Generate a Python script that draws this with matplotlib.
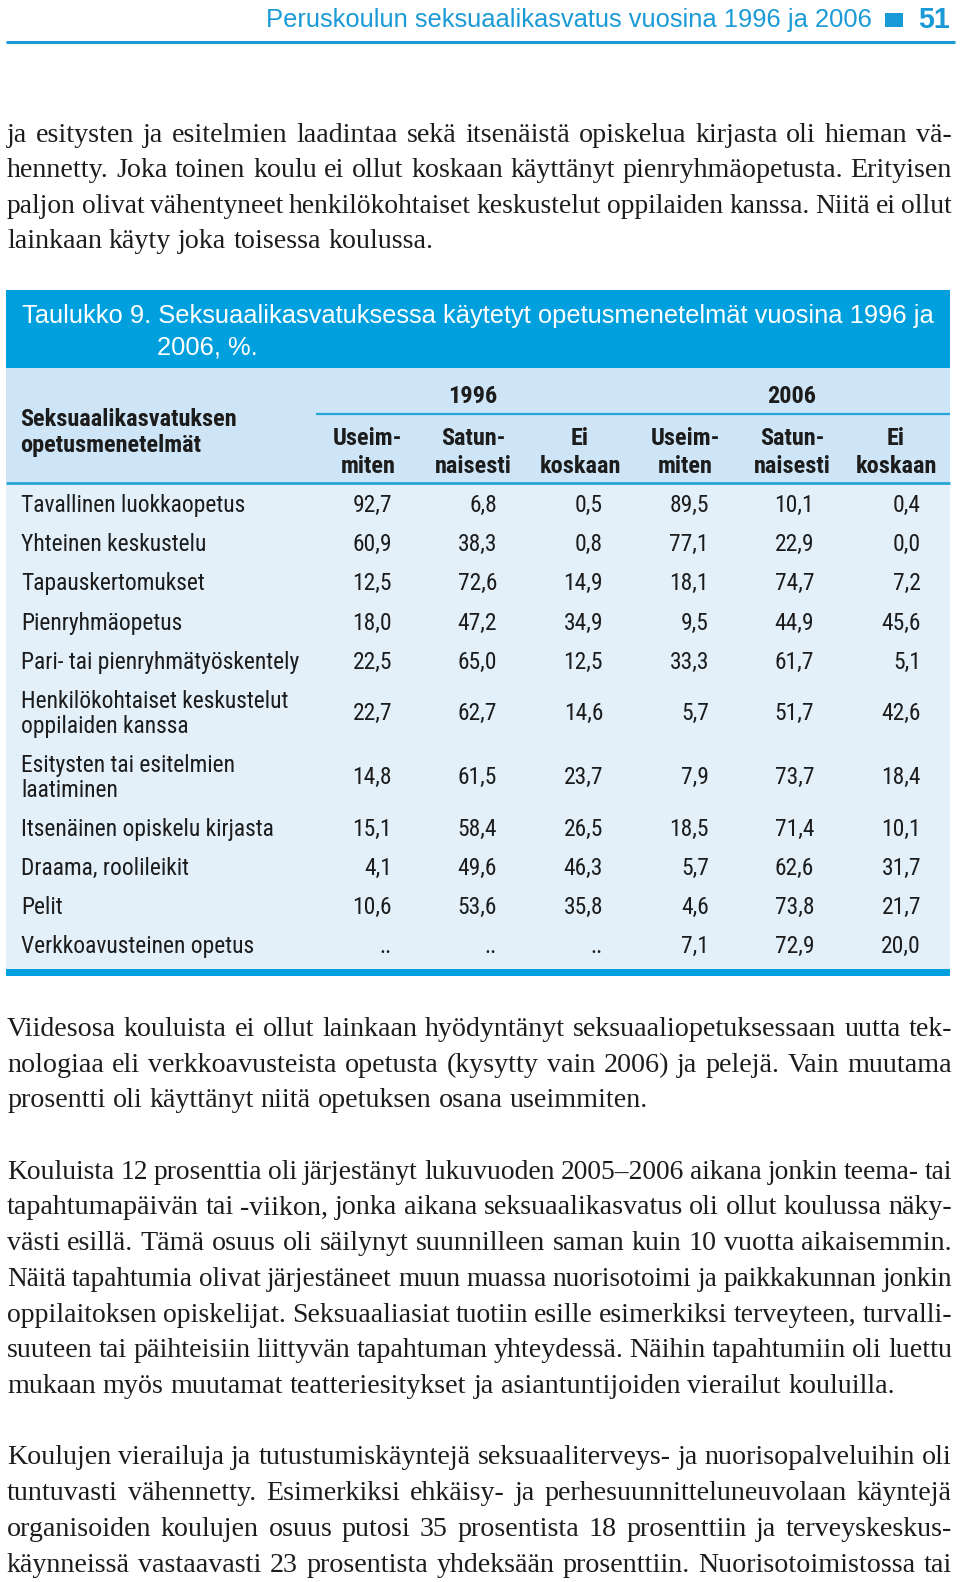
import matplotlib
matplotlib.use("Agg")
import matplotlib.pyplot as plt
from matplotlib.patches import Rectangle
from matplotlib import font_manager
from matplotlib.font_manager import FontProperties

# table data (Taulukko 9), None = not asked ("..")
methods = [
    "Tavallinen luokkaopetus",
    "Yhteinen keskustelu",
    "Tapauskertomukset",
    "Pienryhmäopetus",
    "Pari- tai pienryhmätyöskentely",
    "Henkilökohtaiset keskustelut\noppilaiden kanssa",
    "Esitysten tai esitelmien\nlaatiminen",
    "Itsenäinen opiskelu kirjasta",
    "Draama, roolileikit",
    "Pelit",
    "Verkkoavusteinen opetus",
]
useim_1996 = [92.7, 60.9, 12.5, 18.0, 22.5, 22.7, 14.8, 15.1, 4.1, 10.6, None]
satun_1996 = [6.8, 38.3, 72.6, 47.2, 65.0, 62.7, 61.5, 58.4, 49.6, 53.6, None]
ei_1996 = [0.5, 0.8, 14.9, 34.9, 12.5, 14.6, 23.7, 26.5, 46.3, 35.8, None]
useim_2006 = [89.5, 77.1, 18.1, 9.5, 33.3, 5.7, 7.9, 18.5, 5.7, 4.6, 7.1]
satun_2006 = [10.1, 22.9, 74.7, 44.9, 61.7, 51.7, 73.7, 71.4, 62.6, 73.8, 72.9]
ei_2006 = [0.4, 0.0, 7.2, 45.6, 5.1, 42.6, 18.4, 10.1, 31.7, 21.7, 20.0]

years = ["1996", "2006"]
col_heads = [("Useim-", "miten"), ("Satun-", "naisesti"), ("Ei", "koskaan")] * 2
stub_head = ["Seksuaalikasvatuksen", "opetusmenetelmät"]
title_lines = ["Taulukko 9. Seksuaalikasvatuksessa käytetyt opetusmenetelmät vuosina 1996 ja",
               "2006, %."]
running_head = "Peruskoulun seksuaalikasvatus vuosina 1996 ja 2006"
page_no = "51"

para1 = [
    "ja esitysten ja esitelmien laadintaa sekä itsenäistä opiskelua kirjasta oli hieman vä-",
    "hennetty. Joka toinen koulu ei ollut koskaan käyttänyt pienryhmäopetusta. Erityisen",
    "paljon olivat vähentyneet henkilökohtaiset keskustelut oppilaiden kanssa. Niitä ei ollut",
    "lainkaan käyty joka toisessa koulussa.",
]
para2 = [
    "Viidesosa kouluista ei ollut lainkaan hyödyntänyt seksuaaliopetuksessaan uutta tek-",
    "nologiaa eli verkkoavusteista opetusta (kysytty vain 2006) ja pelejä. Vain muutama",
    "prosentti oli käyttänyt niitä opetuksen osana useimmiten.",
]
para3 = [
    "Kouluista 12 prosenttia oli järjestänyt lukuvuoden 2005–2006 aikana jonkin teema- tai",
    "tapahtumapäivän tai -viikon, jonka aikana seksuaalikasvatus oli ollut koulussa näky-",
    "västi esillä. Tämä osuus oli säilynyt suunnilleen saman kuin 10 vuotta aikaisemmin.",
    "Näitä tapahtumia olivat järjestäneet muun muassa nuorisotoimi ja paikkakunnan jonkin",
    "oppilaitoksen opiskelijat. Seksuaaliasiat tuotiin esille esimerkiksi terveyteen, turvalli-",
    "suuteen tai päihteisiin liittyvän tapahtuman yhteydessä. Näihin tapahtumiin oli luettu",
    "mukaan myös muutamat teatteriesitykset ja asiantuntijoiden vierailut kouluilla.",
]
para4 = [
    "Koulujen vierailuja ja tutustumiskäyntejä seksuaaliterveys- ja nuorisopalveluihin oli",
    "tuntuvasti vähennetty. Esimerkiksi ehkäisy- ja perhesuunnitteluneuvolaan käyntejä",
    "organisoiden koulujen osuus putosi 35 prosentista 18 prosenttiin ja terveyskeskus-",
    "käynneissä vastaavasti 23 prosentista yhdeksään prosenttiin. Nuorisotoimistossa tai",
]

BLUE = "#00a0de"
HEAD_BLUE = "#1a9ad6"
HEAD_BG = "#cde5f6"
BODY_BG = "#e3f0fa"
RULE = "#2aa5d9"
INK = "#1c1c1c"

SANS = "Liberation Sans"
SERIF = "Liberation Serif"


def condensed_font(bold):
    # look for a narrow / condensed sans face among the installed fonts
    prefs = ["liberationsansnarrow", "arialn", "robotocondensed", "opensanscondensed",
             "notosanscondensed", "dejavusanscondensed", "condensed", "narrow"]
    best = None
    for f in font_manager.fontManager.ttflist:
        path = f.fname.lower().replace("-", "").replace("_", "").replace(" ", "")
        if "italic" in path or "oblique" in path or f.style != "normal":
            continue
        if "serif" in path and "sans" not in path:
            continue
        w = f.weight if isinstance(f.weight, int) else font_manager.weight_dict.get(f.weight, 400)
        if bold and not (650 <= w <= 750):
            continue
        if not bold and w != 400:
            continue
        cond = f.stretch in ("condensed", "semi-condensed") or "narrow" in path or "condensed" in path
        if not cond or "extra" in path or "ultra" in path or "semi" in path and "semibold" not in path:
            continue
        rank = next((i for i, p in enumerate(prefs) if p in path), len(prefs))
        if best is None or rank < best[0]:
            best = (rank, f.fname)
    if best is None:
        return FontProperties(family=SANS, weight="bold" if bold else "normal")
    return FontProperties(fname=best[1])


NARROW = condensed_font(False)
NARROW_B = condensed_font(True)

fig = plt.figure(figsize=(9.6, 15.82), dpi=100)
ax = fig.add_axes([0, 0, 1, 1])
ax.set_xlim(0, 960)
ax.set_ylim(1582, 0)
ax.axis("off")
renderer = fig.canvas.get_renderer()


def props(fp, size):
    p = fp.copy()
    p.set_size(size)
    return p


def width_of(s, fp, size):
    t = ax.text(0, 0, s, fontproperties=props(fp, size))
    w = t.get_window_extent(renderer).width
    t.remove()
    return w


def fit(s, target, fp, base=18):
    return base * target / width_of(s, fp, base)


SERIF_FP = FontProperties(family=SERIF)


def justify(line, x0, x1, y, size, last=False):
    words = line.split(" ")
    while True:
        widths = [width_of(w, SERIF_FP, size) for w in words]
        if last or len(words) == 1:
            gap = 0.25 * size * 100 / 72
            break
        gap = (x1 - x0 - sum(widths)) / (len(words) - 1)
        if gap >= 0.2 * size * 100 / 72:
            break
        size *= 0.99
    x = x0
    for w, wd in zip(words, widths):
        ax.text(x, y, w, fontproperties=props(SERIF_FP, size), color=INK,
                va="baseline", ha="left")
        x += wd + gap


# running head
SANS_FP = FontProperties(family=SANS)
SANS_B = FontProperties(family=SANS, weight="bold")
ax.text(872, 27, running_head, fontproperties=props(SANS_FP, fit(running_head, 607, SANS_FP)),
        color=HEAD_BLUE, ha="right", va="baseline")
ax.add_patch(Rectangle((885, 13), 18, 14, color=HEAD_BLUE, lw=0))
ax.text(934, 28, page_no, fontproperties=props(SANS_B, fit(page_no, 32, SANS_B)),
        color=HEAD_BLUE, ha="center", va="baseline")
ax.plot([6, 955], [42, 42], color=HEAD_BLUE, lw=2.2, solid_capstyle="butt")

# body text
serif_size = fit(para2[0], 936, SERIF_FP)
base_top, step_top = 142, 35.3
base_low, step = 1036, 35.7
for i, line in enumerate(para1):
    justify(line, 7, 952, base_top + i * step_top, serif_size, last=i == len(para1) - 1)
for paragraph, k0 in [(para2, 0), (para3, 4), (para4, 12)]:
    for i, line in enumerate(paragraph):
        last = (i == len(paragraph) - 1) and paragraph is not para4
        justify(line, 7, 952, base_low + (k0 + i) * step, serif_size, last=last)

# table backgrounds
ax.add_patch(Rectangle((6, 290), 944, 78, color=BLUE, lw=0))
ax.add_patch(Rectangle((6, 368), 944, 115, color=HEAD_BG, lw=0))
ax.add_patch(Rectangle((6, 483), 944, 486, color=BODY_BG, lw=0))
ax.add_patch(Rectangle((6, 969), 944, 7, color=BLUE, lw=0))
ax.plot([6, 950], [483, 483], color=RULE, lw=2, solid_capstyle="butt")
ax.plot([316, 950], [414, 414], color=RULE, lw=1.6, solid_capstyle="butt")

# title
tfp = props(SANS_FP, fit(title_lines[0], 911, SANS_FP))
ax.text(22, 323, title_lines[0], fontproperties=tfp, color="white", va="baseline")
ax.text(157, 355, title_lines[1], fontproperties=tfp, color="white", va="baseline")

# header
cap_size = 17.5
bfp = props(NARROW_B, min(cap_size, fit(stub_head[0], 226, NARROW_B)))
ax.text(20, 426, stub_head[0], fontproperties=bfp, color=INK, va="baseline")
ax.text(20, 452, stub_head[1], fontproperties=bfp, color=INK, va="baseline")
head_x = [368, 473, 580, 685, 792, 896]
right_x = [392, 497, 603, 709, 814, 921]
for yr, cx in zip(years, [head_x[1], head_x[4]]):
    ax.text(cx, 403, yr, fontproperties=bfp, color=INK, ha="center", va="baseline")
for (l1, l2), cx in zip(col_heads, head_x):
    ax.text(cx, 445, l1, fontproperties=bfp, color=INK, ha="center", va="baseline")
    ax.text(cx, 473, l2, fontproperties=bfp, color=INK, ha="center", va="baseline")

# rows
rs = min(cap_size, fit(methods[4], 280, NARROW))
rfp = props(NARROW, rs)
cap_off = 0.36 * rs * 100 / 72
columns = [useim_1996, satun_1996, ei_1996, useim_2006, satun_2006, ei_2006]
y = 483.5
for r, label in enumerate(methods):
    lines = label.split("\n")
    h = 39.3 + 24.4 * (len(lines) - 1)
    cy = y + h / 2
    for j, ln in enumerate(lines):
        ly = cy + (j - (len(lines) - 1) / 2) * 25
        ax.text(21, ly + cap_off, ln, fontproperties=rfp, color=INK, va="baseline")
    for col, rx in zip(columns, right_x):
        v = col[r]
        s = ".." if v is None else f"{v:.1f}".replace(".", ",")
        ax.text(rx, cy + cap_off, s, fontproperties=rfp, color=INK, ha="right", va="baseline")
    y += h

fig.savefig("out.png", dpi=100)
